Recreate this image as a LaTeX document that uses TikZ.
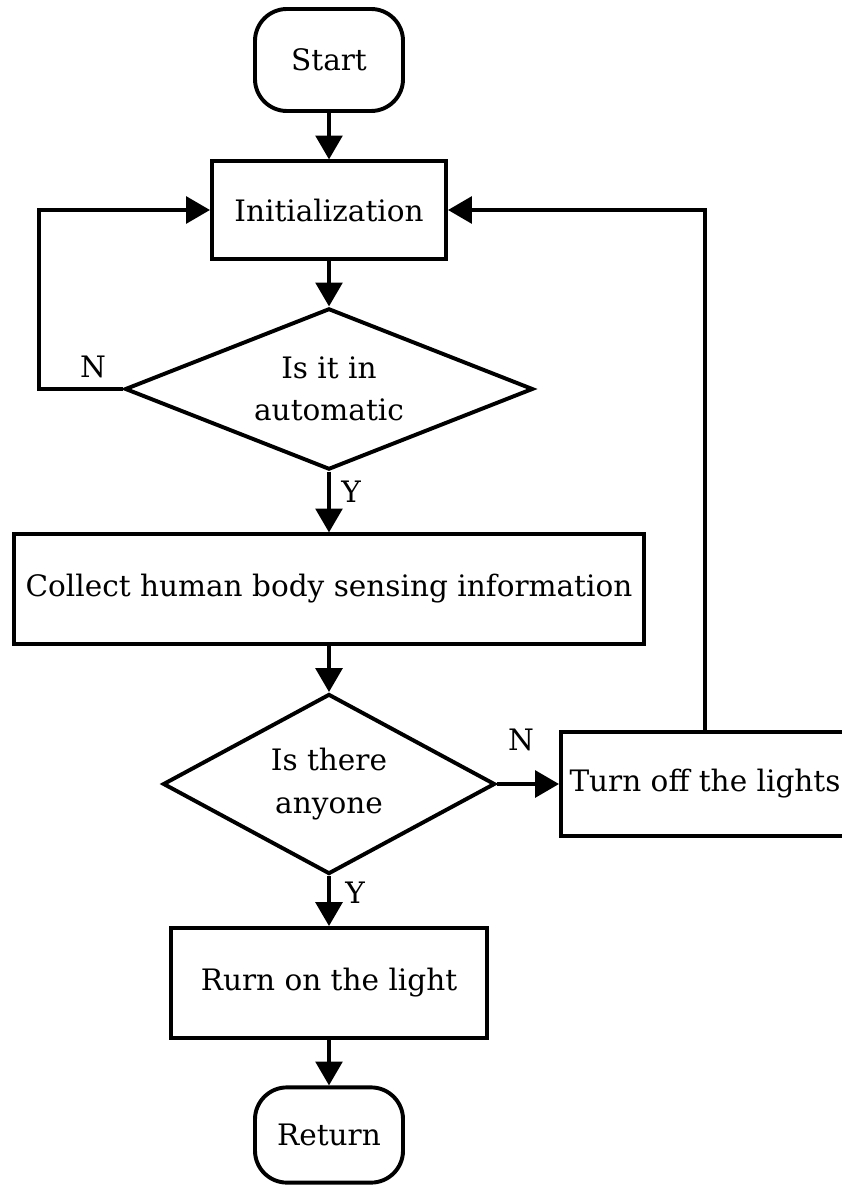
\documentclass[tikz,border=0pt]{standalone}
\usepackage{fontspec}
\setmainfont{DejaVu Serif}
\usetikzlibrary{arrows.meta,shapes.geometric,positioning}

\begin{document}
\begin{tikzpicture}[x=0.025cm,y=-0.025cm,
    every node/.style={font=\fontsize{21}{30}\selectfont},
    term/.style={draw,line width=2.8pt,rounded corners=0.8cm,minimum width=3.7cm,minimum height=2.55cm},
    proc/.style={draw,line width=2.8pt,inner sep=0pt},
    test/.style={draw,diamond,line width=2.8pt,inner sep=0pt,align=center},
    flow/.style={line width=2.7pt,-{Triangle[length=17pt,width=19pt]}}]
  \useasboundingbox (0,0) rectangle (841,1187);
  % blocks
  \node[term] (start) at (329,60) {Start};
  \node[proc,minimum width=5.85cm,minimum height=2.43cm] (init) at (329,210) {Initialization};
  \node[test,aspect=2.53,minimum width=10.2cm,minimum height=4.03cm] (auto) at (329,389) {Is it in\\automatic};
  \node[proc,minimum width=15.73cm,minimum height=2.73cm] (collect) at (329,589) {Collect human body sensing information};
  \node[test,aspect=1.84,minimum width=8.3cm,minimum height=4.5cm] (anyone) at (329,784) {Is there\\anyone};
  \node[proc,minimum width=7.2cm,minimum height=2.58cm] (off) at (705,784) {Turn off the lights};
  \node[proc,minimum width=7.9cm,minimum height=2.75cm] (on) at (329,983) {Rurn on the light};
  \node[term,minimum height=2.38cm] (ret) at (329,1135) {Return};
  % branch labels
  \node (autoN) at (93,367) {N};
  \node (autoY) at (351,492) {Y};
  \node (anyoneN) at (521,740) {N};
  \node (anyoneY) at (355,893) {Y};
  % connectors
  \coordinate (loopL) at (39,389);
  \draw[flow] (start) -- (init);
  \draw[flow] (init) -- (auto);
  \draw[flow] (auto.west) -- (loopL) |- (init.west);
  \draw[flow] (auto) -- (collect);
  \draw[flow] (collect) -- (anyone);
  \draw[flow] (anyone) -- (off);
  \draw[flow] (off.north) |- (init.east);
  \draw[flow] (anyone) -- (on);
  \draw[flow] (on) -- (ret);
\end{tikzpicture}
\end{document}
